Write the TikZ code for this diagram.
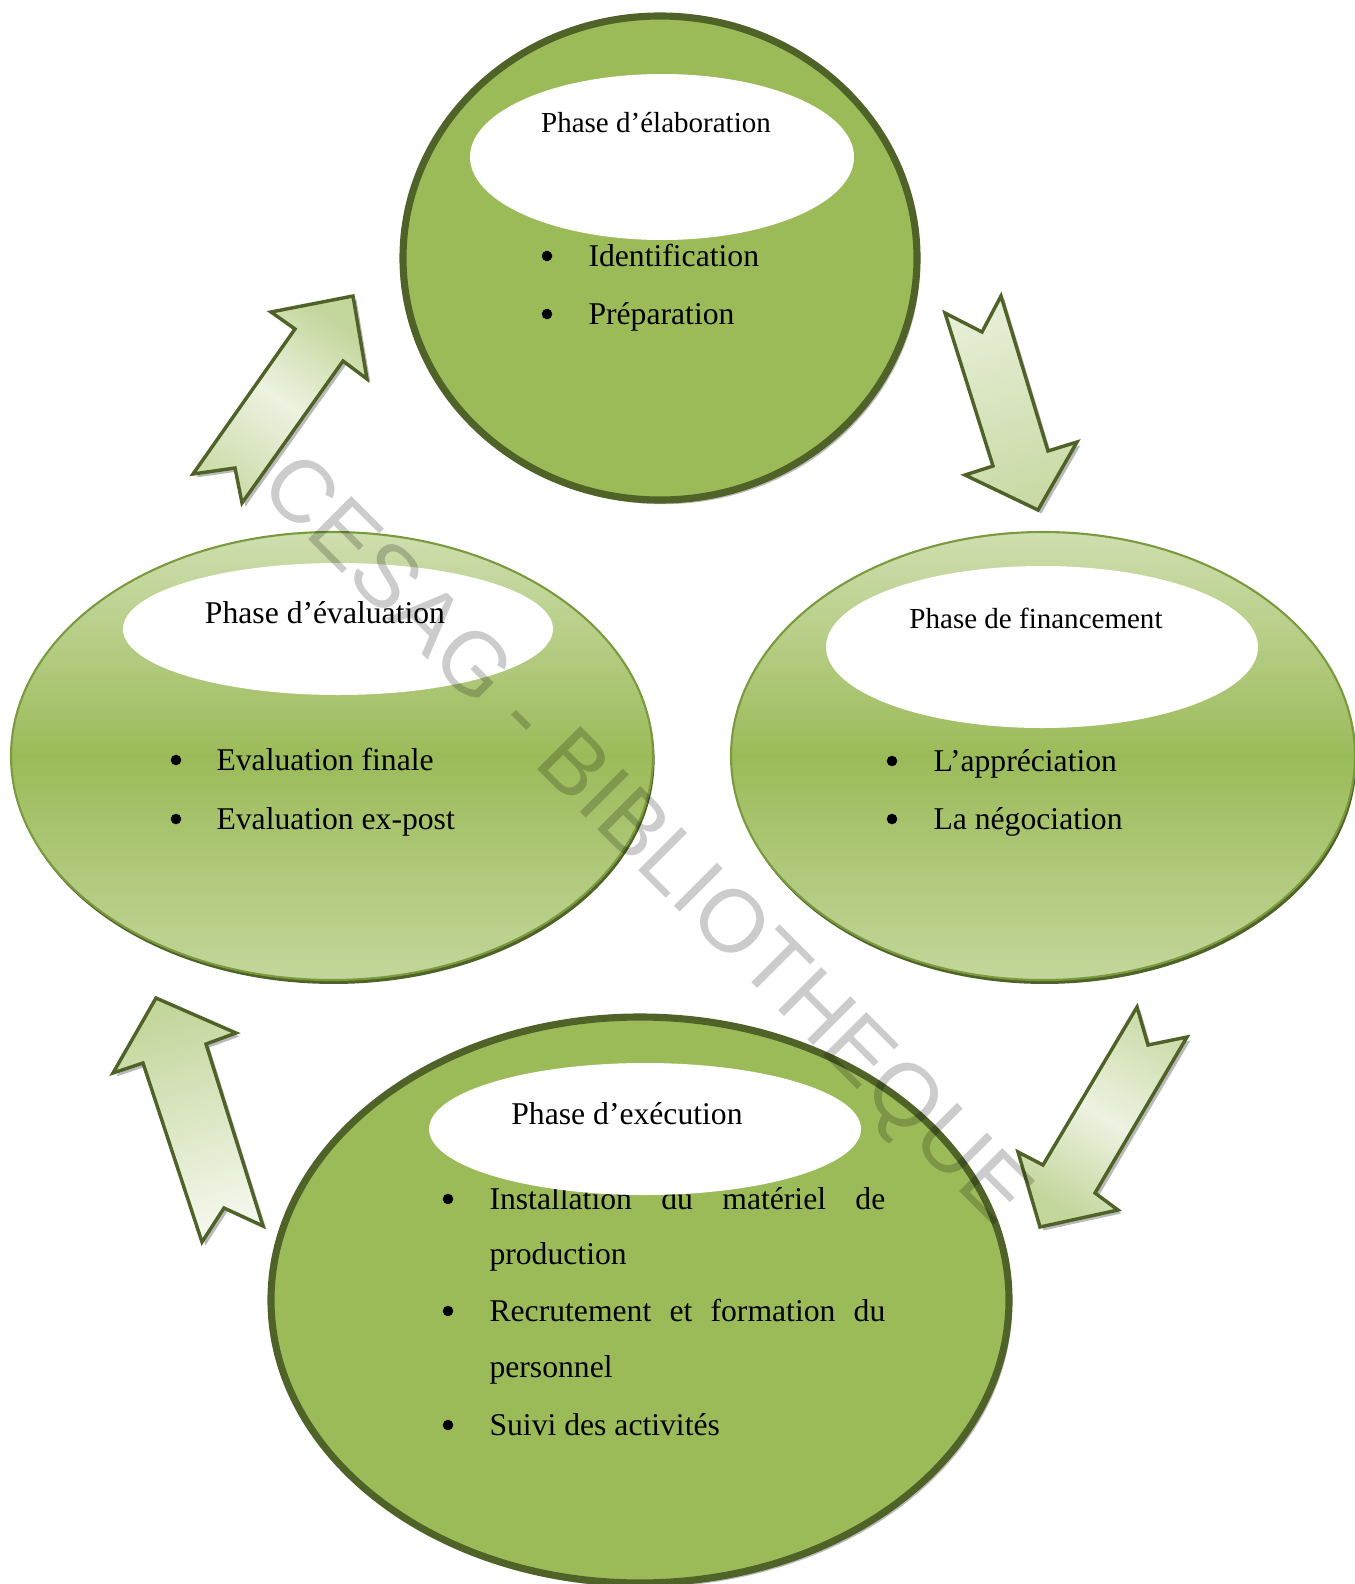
\documentclass[tikz,border=0pt]{standalone}
\usepackage{fontspec}
\setmainfont{Liberation Serif}
\newfontfamily\wmfont{Liberation Sans}
\usetikzlibrary{shadows}

\definecolor{phgreen}{HTML}{9BBB59}
\definecolor{dkgreen}{HTML}{4F6228}
\definecolor{ltgreen}{HTML}{C3D69B}
\definecolor{palegreen}{HTML}{EDF2E1}
\definecolor{midgreen}{HTML}{7A9A3E}

% light - green - light, top to bottom
\pgfdeclareverticalshading{phaseshade}{100bp}{color(0bp)=(ltgreen); color(25bp)=(ltgreen); color(50bp)=(phgreen); color(75bp)=(ltgreen!80!white); color(100bp)=(ltgreen!80!white)}
% green head, pale middle
\pgfdeclareverticalshading{arrowshade}{100bp}{color(0bp)=(ltgreen!75!palegreen); color(25bp)=(ltgreen!75!palegreen); color(50bp)=(palegreen); color(75bp)=(ltgreen); color(100bp)=(ltgreen)}

\tikzset{
  bigcircle/.style={draw=dkgreen, line width=2.7pt, fill=phgreen,
    drop shadow={shadow xshift=1.2pt, shadow yshift=-1.6pt, opacity=0.45, fill=black!60}},
  flatphase/.style={draw=midgreen, line width=0.8pt, shading=phaseshade,
    drop shadow={shadow xshift=0.6pt, shadow yshift=-1.5pt, opacity=1, fill=dkgreen}},
  hole/.style={fill=white},
  blockarrow/.style={draw=dkgreen, line width=1.3pt, line join=miter,
    drop shadow={shadow xshift=1.3pt, shadow yshift=-1.3pt, opacity=0.5, fill=black!55}},
  phtitle/.style={anchor=base, inner sep=0pt},
  item/.style={anchor=base west, inner sep=0pt, font=\fontsize{12}{14}\selectfont},
  bul/.style={circle, fill=black, inner sep=0pt, minimum size=4pt}
}

\begin{document}
\begin{tikzpicture}[x=0.379pt, y=-0.379pt]
\useasboundingbox (0,0) rectangle (1354,1584);

% the four phases
\draw[bigcircle] (660,258) ellipse [x radius=257, y radius=242];
\draw[flatphase] (332,756) ellipse [x radius=321, y radius=224];
\draw[flatphase] (1043,756) ellipse [x radius=312, y radius=224];
\draw[bigcircle] (640,1300) ellipse [x radius=369, y radius=283];

% white title areas
\fill[hole] (662,157) ellipse [x radius=192, y radius=83];
\fill[hole] (338,629) ellipse [x radius=215, y radius=66];
\fill[hole] (1042,647) ellipse [x radius=216, y radius=81];

% bullet lists
\foreach \y/\txt in {266/Identification, 324/Préparation} {
   \node[bul] (elab-b\y) at (547,\y-10) {};
   \node[item] (elab-i\y) at (588,\y) {\txt};
}
\foreach \y/\txt in {770/Evaluation finale, 829/Evaluation ex-post} {
   \node[bul] (eval-b\y) at (176,\y-10) {};
   \node[item] (eval-i\y) at (216,\y) {\txt};
}
\foreach \y/\txt in {771/L’appréciation, 829/La négociation} {
   \node[bul] (fin-b\y) at (892,\y-10) {};
   \node[item] (fin-i\y) at (933,\y) {\txt};
}
\foreach \y in {1209, 1321, 1435} {
   \node[bul] (exec-b\y) at (448,\y-10) {};
}
\node[item] (exec-l1) at (489,1209) {\makebox[150pt][s]{Installation\hfill du\hfill matériel\hfill de}};
\node[item] (exec-l2) at (489,1264) {production};
\node[item] (exec-l3) at (489,1321) {\makebox[150pt][s]{Recrutement\hfill et\hfill formation\hfill du}};
\node[item] (exec-l4) at (489,1377) {personnel};
\node[item] (exec-l5) at (489,1435) {Suivi des activités};

% this one lies over the first line
\fill[hole] (645,1129) ellipse [x radius=216, y radius=66];

% titles
\node[phtitle, font=\fontsize{11}{13}\selectfont] (t-elab) at (656,132) {Phase d’élaboration};
\node[phtitle, font=\fontsize{12}{14}\selectfont] (t-eval) at (325,623) {Phase d’évaluation};
\node[phtitle, font=\fontsize{11}{13}\selectfont] (t-fin) at (1036,628) {Phase de financement};
\node[phtitle, font=\fontsize{12}{14}\selectfont] (t-exec) at (627,1124) {Phase d’exécution};

% arrows between the phases
\draw[blockarrow, shading=arrowshade, shading angle=-35]
  (353,296) -- (367,379) -- (343,361) -- (242,503) -- (235,468) -- (193,474) -- (295,329) -- (271,312) -- cycle;
\draw[blockarrow, top color=palegreen!85!ltgreen, bottom color=ltgreen!85!palegreen, shading angle=18]
  (1001,296) -- (1048,451) -- (1077,442) -- (1038,510) -- (965,475) -- (993,466) -- (945,313) -- (982,332) -- cycle;
\draw[blockarrow, shading=arrowshade, shading angle=149]
  (1137,1007) -- (1148,1045) -- (1187,1037) -- (1095,1193) -- (1118,1210) -- (1040,1227) -- (1018,1152) -- (1043,1165) -- cycle;
\draw[blockarrow, top color=ltgreen, bottom color=palegreen!60!white, shading angle=17]
  (156,998) -- (236,1033) -- (206,1044) -- (263,1226) -- (224,1208) -- (202,1242) -- (143,1063) -- (113,1073) -- cycle;

% watermark
\node[rotate=-45, text=black, text opacity=0.2, font=\wmfont\fontsize{33.6}{40}\selectfont] (wm) at (643,843) {CESAG - BIBLIOTHEQUE};
\end{tikzpicture}
\end{document}
